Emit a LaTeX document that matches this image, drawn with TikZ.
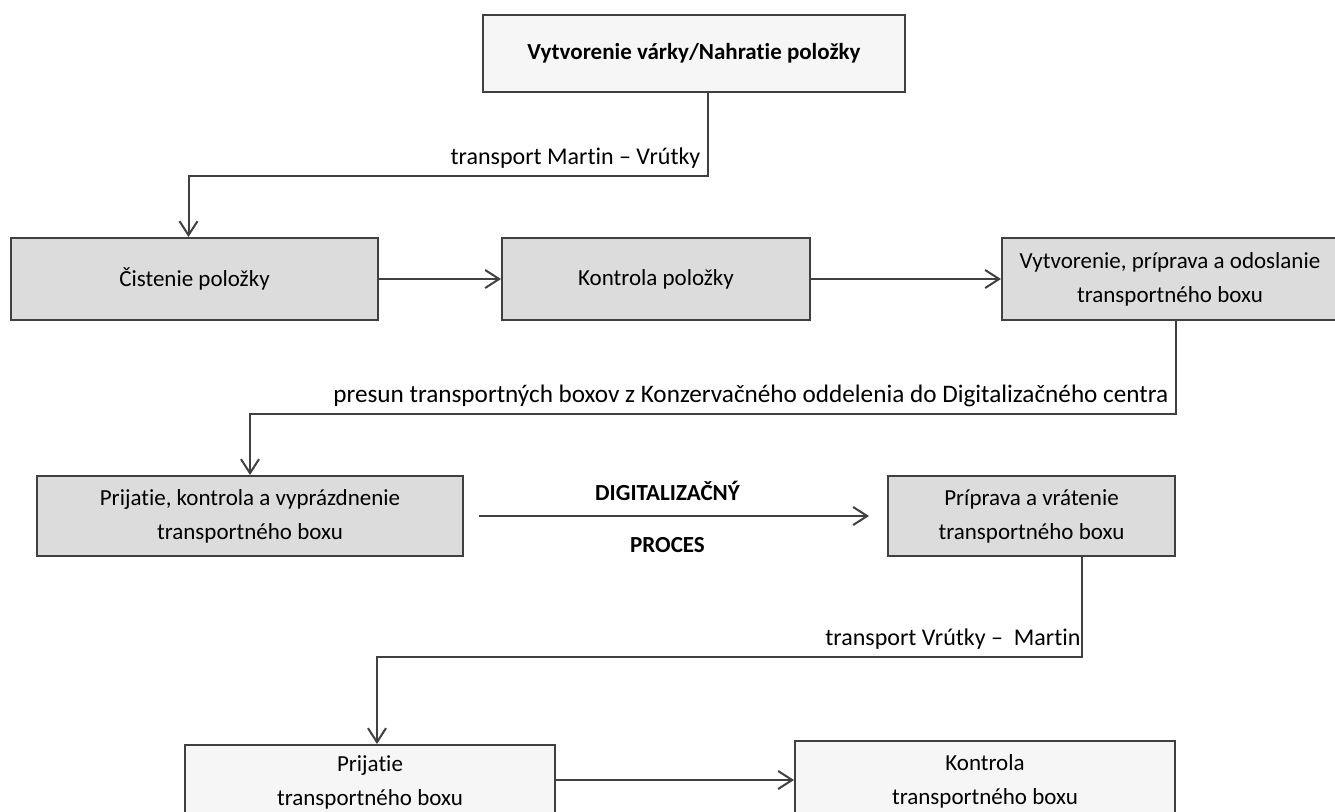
\documentclass[tikz,border=0pt]{standalone}
\usepackage{fontspec}
\setmainfont{Carlito}[Ligatures=NoCommon]
\usepackage{tikz}
\usetikzlibrary{arrows.meta, positioning}
\definecolor{linegray}{HTML}{404040}
\definecolor{boxgray}{HTML}{DCDCDC}
\definecolor{boxlight}{HTML}{F6F6F6}
\tikzstyle{stepbox} = [rectangle, draw=linegray, line width=1pt, fill=boxgray, align=center, font=\fontsize{11.5}{17}\selectfont, minimum height=41pt]
\tikzstyle{lightbox} = [stepbox, fill=boxlight]
\tikzstyle{flow} = [draw=linegray, line width=1pt, -{Straight Barb[length=7pt, width=9pt]}]
\tikzstyle{note} = [font=\fontsize{12}{14}\selectfont, text=black]

\begin{document}
\begin{tikzpicture}[x=0.5pt, y=-0.5pt]
        \useasboundingbox (0,0) rectangle (1335,811);
        \clip (0,0) rectangle (1335,811);

        \node[lightbox, minimum width=211pt, minimum height=38.5pt, font=\bfseries\fontsize{11.5}{17}\selectfont] (varka) at (694,53.5) {Vytvorenie várky/Nahratie položky};

        \node[stepbox, minimum width=183.5pt] (cistenie) at (194.5,279) {Čistenie položky};
        \node[stepbox, minimum width=154pt, right=61pt of cistenie] (kontrola) {Kontrola položky};
        \node[stepbox, minimum width=168pt, right=95pt of kontrola] (odoslanie) {Vytvorenie, príprava a odoslanie\\transportného boxu};

        \node[stepbox, minimum width=213pt, minimum height=40pt] (prijatie) at (250,516) {Prijatie, kontrola a vyprázdnenie\\transportného boxu};
        \node[stepbox, minimum width=143.5pt, minimum height=40pt] (priprava) at (1031.5,516) {Príprava a vrátenie\\transportného boxu};

        \node[lightbox, minimum width=185pt, anchor=north, inner ysep=5.3pt, text depth=40pt] (prijatieB) at (370,744) {Prijatie\\transportného boxu};
        \node[lightbox, minimum width=190pt, anchor=north, inner ysep=6.8pt, text depth=40pt] (kontrolaB) at (985,740) {Kontrola\\transportného boxu};

        \draw[flow] ([xshift=7pt]varka.south) -- ++(0,83) node[note, above left]{transport Martin – Vrútky} -| ([xshift=-3pt]cistenie.north);
        \draw[flow] (cistenie) -- (kontrola);
        \draw[flow] (kontrola) -- (odoslanie);
        \draw[flow] ([xshift=3pt]odoslanie.south) -- ++(0,93) node[note, above left, font=\fontsize{12.6}{14}\selectfont]{presun transportných boxov z Konzervačného oddelenia do Digitalizačného centra} -| (prijatie.north);
        \draw[flow, shorten <=7.5pt, shorten >=9pt] (prijatie) -- node[note, above=4pt, xshift=-4pt, font=\bfseries\fontsize{11.5}{14}\selectfont]{DIGITALIZAČNÝ} node[note, below=7pt, xshift=-4pt, font=\bfseries\fontsize{11.5}{14}\selectfont]{PROCES} (priprava);
        \draw[flow] ([xshift=25pt]priprava.south) -- ++(0,100) node[note, above left, inner xsep=0pt]{transport Vrútky –\ \ Martin} -| ([xshift=3.5pt]prijatieB.north);
        \draw[flow] ([yshift=-18pt]prijatieB.north east) -- ([yshift=-20pt]kontrolaB.north west);

    \end{tikzpicture}
\end{document}
